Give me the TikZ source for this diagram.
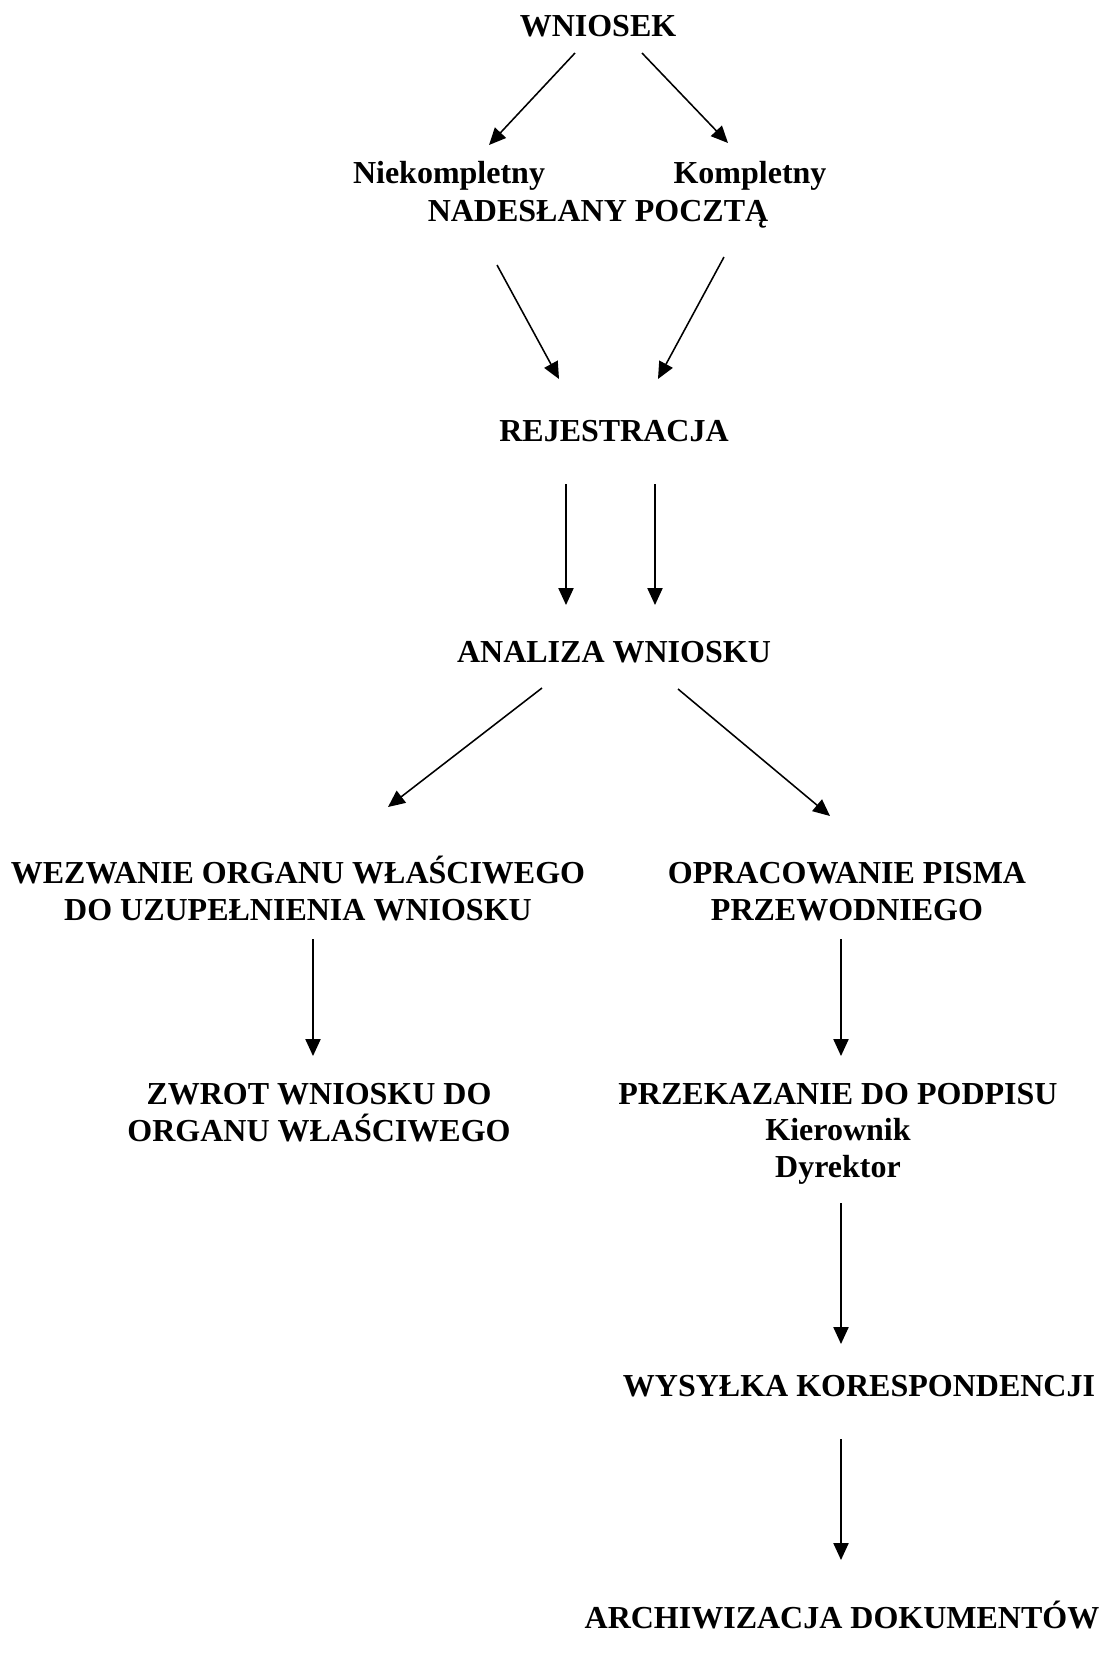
\documentclass[tikz,border=0pt]{standalone}
\usepackage{fontspec}
\setmainfont{Liberation Serif}
\usetikzlibrary{arrows.meta}
\begin{document}
\begin{tikzpicture}[x=0.45pt,y=-0.45pt,
	txt/.style={font=\fontsize{14.4}{16.4}\selectfont\bfseries,align=center,inner sep=0pt,anchor=base},
	arr/.style={line width=0.7pt,-{Triangle[length=7.6pt,width=6.8pt]}}]
	\useasboundingbox (0,0) rectangle (1111,1659);
		\node[txt] (wniosek) at (598,36) {WNIOSEK};
		\node[txt] (niekompl) at (449,183) {Niekompletny};
		\node[txt] (kompl) at (750,183) {Kompletny};
		\node[txt] (poczta) at (598,221) {NADESŁANY POCZTĄ};
		\node[txt] (rejestr) at (614,441) {REJESTRACJA};
		\node[txt] (analiza) at (614,662) {ANALIZA WNIOSKU};
		\node[txt] (wezwanie) at (298,920) {WEZWANIE ORGANU WŁAŚCIWEGO\\DO UZUPEŁNIENIA WNIOSKU};
		\node[txt] (pismo) at (847,920) {OPRACOWANIE PISMA\\PRZEWODNIEGO};
		\node[txt] (zwrot) at (319,1141) {ZWROT WNIOSKU DO\\ORGANU WŁAŚCIWEGO};
		\node[txt] (podpis) at (838,1177) {PRZEKAZANIE DO PODPISU\\Kierownik\\Dyrektor};
		\node[txt] (wysylka) at (859,1396) {WYSYŁKA KORESPONDENCJI};
		\node[txt] (archiw) at (842,1628) {ARCHIWIZACJA DOKUMENTÓW};
		% wniosek
		\draw[arr] ([shift={(-23,17)}]wniosek.base) -- ([shift={(40,-38)}]niekompl.base);
		\draw[arr] ([shift={(44,17)}]wniosek.base) -- ([shift={(-22,-40)}]kompl.base);
		\draw[arr] ([shift={(48,82)}]niekompl.base) -- ([shift={(-55,-62)}]rejestr.base);
		\draw[arr] ([shift={(-26,74)}]kompl.base) -- ([shift={(44,-62)}]rejestr.base);
		% rejestracja i analiza
		\draw[arr] ([shift={(-48,43)}]rejestr.base) -- ([shift={(-48,-57)}]analiza.base);
		\draw[arr] ([shift={(41,43)}]rejestr.base) -- ([shift={(41,-57)}]analiza.base);
		\draw[arr] ([shift={(-72,26)}]analiza.base) -- ([shift={(90,-113)}]wezwanie.base);
		\draw[arr] ([shift={(64,27)}]analiza.base) -- ([shift={(-17,-104)}]pismo.base);
		% dalsze kroki
		\draw[arr] ([shift={(15,19)}]wezwanie.base) -- ([shift={(-6,-85)}]zwrot.base);
		\draw[arr] ([shift={(-6,19)}]pismo.base) -- ([shift={(3,-121)}]podpis.base);
		\draw[arr] ([shift={(3,26)}]podpis.base) -- ([shift={(-18,-52)}]wysylka.base);
		\draw[arr] ([shift={(-18,43)}]wysylka.base) -- ([shift={(-1,-68)}]archiw.base);
	\end{tikzpicture}
\end{document}
